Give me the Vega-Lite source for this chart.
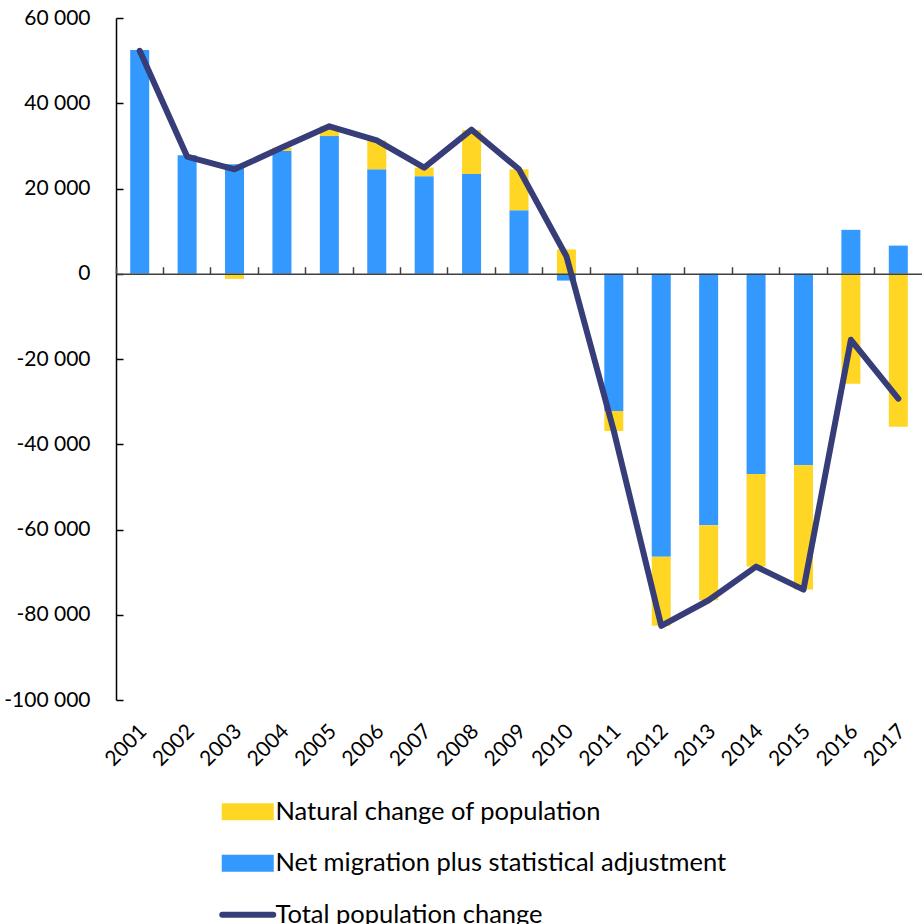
{
  "$schema": "https://vega.github.io/schema/vega-lite/v6.json",
  "width": 806,
  "height": 682,
  "autosize": {"type": "none"},
  "padding": {"left": 116, "top": 18, "right": 0, "bottom": 224},
  "background": "white",
  "config": {
    "view": {"stroke": null},
    "font": "Lato",
    "axis": {"labelFont": "Lato", "labelFontSize": 21, "labelColor": "#000000", "grid": false, "title": null}
  },
  "data": {
    "values": [
      {"year": "2001", "Natural change of population": -200, "Net migration plus statistical adjustment": 52500, "total": 52300},
      {"year": "2002", "Natural change of population": -300, "Net migration plus statistical adjustment": 27800, "total": 27500},
      {"year": "2003", "Natural change of population": -1200, "Net migration plus statistical adjustment": 25700, "total": 24500},
      {"year": "2004", "Natural change of population": 800, "Net migration plus statistical adjustment": 28800, "total": 29600},
      {"year": "2005", "Natural change of population": 2300, "Net migration plus statistical adjustment": 32300, "total": 34600},
      {"year": "2006", "Natural change of population": 6800, "Net migration plus statistical adjustment": 24500, "total": 31300},
      {"year": "2007", "Natural change of population": 2000, "Net migration plus statistical adjustment": 22900, "total": 24900},
      {"year": "2008", "Natural change of population": 10300, "Net migration plus statistical adjustment": 23400, "total": 33800},
      {"year": "2009", "Natural change of population": 9600, "Net migration plus statistical adjustment": 14900, "total": 24500},
      {"year": "2010", "Natural change of population": 5700, "Net migration plus statistical adjustment": -1600, "total": 4100},
      {"year": "2011", "Natural change of population": -4700, "Net migration plus statistical adjustment": -32200, "total": -36900},
      {"year": "2012", "Natural change of population": -16200, "Net migration plus statistical adjustment": -66400, "total": -82600},
      {"year": "2013", "Natural change of population": -17600, "Net migration plus statistical adjustment": -59000, "total": -76600},
      {"year": "2014", "Natural change of population": -21700, "Net migration plus statistical adjustment": -47000, "total": -68700},
      {"year": "2015", "Natural change of population": -29200, "Net migration plus statistical adjustment": -44900, "total": -74100},
      {"year": "2016", "Natural change of population": -25800, "Net migration plus statistical adjustment": 10300, "total": -15500},
      {"year": "2017", "Natural change of population": -35900, "Net migration plus statistical adjustment": 6600, "total": -29300}
    ]
  },
  "layer": [
    {
      "transform": [
        {"fold": ["Net migration plus statistical adjustment", "Natural change of population"], "as": ["series", "value"]}
      ],
      "mark": {"type": "bar", "size": 19},
      "encoding": {
        "x": {
          "field": "year", "type": "ordinal",
          "scale": {"paddingInner": 0, "paddingOuter": -0.069, "align": 0},
          "axis": {"orient": "bottom", "ticks": false, "domain": false, "labelAngle": -45, "labelAlign": "right", "labelBaseline": "middle", "labelPadding": 28, "labelOffset": 4, "labelOverlap": false}
        },
        "y": {
          "field": "value", "type": "quantitative", "stack": "zero",
          "scale": {"domain": [-100000, 60000], "nice": false, "zero": false},
          "axis": {
            "orient": "left",
            "values": [-100000, -80000, -60000, -40000, -20000, 0, 20000, 40000, 60000],
            "labelExpr": "replace(replace(format(datum.value, ','), regexp(',', 'g'), ' '), '\u2212', '-')",
            "domain": true, "domainColor": "#000000", "domainWidth": 1.5,
            "ticks": true, "tickColor": "#000000", "tickWidth": 1.5, "tickSize": -7,
            "labelPadding": 33
          }
        },
        "color": {
          "field": "series", "type": "nominal",
          "scale": {
            "domain": ["Natural change of population", "Net migration plus statistical adjustment", "Total population change"],
            "range": ["#FFD624", "#3399FF", "#363D78"]
          },
          "legend": {
            "orient": "none", "legendX": 119, "legendY": 781, "direction": "vertical", "title": null,
            "padding": 0, "symbolSize": 2704,
            "symbolType": "M-1,-0.327L1,-0.327L1,0.327L-1,0.327Z",
            "labelFont": "Lato", "labelFontSize": 25.5, "labelColor": "#000000", "labelOffset": 15,
            "rowPadding": 24.5, "labelLimit": 800,
            "encode": {
              "symbols": {
                "update": {
                  "shape": {"signal": "datum.value === 'Total population change' ? 'M-0.98,0L0.98,0' : 'M-1,-0.327L1,-0.327L1,0.327L-1,0.327Z'"},
                  "fill": {"signal": "datum.value === 'Natural change of population' ? '#FFD624' : datum.value === 'Net migration plus statistical adjustment' ? '#3399FF' : 'transparent'"},
                  "stroke": {"signal": "datum.value === 'Total population change' ? '#363D78' : 'transparent'"},
                  "strokeWidth": {"signal": "datum.value === 'Total population change' ? 6 : 0"},
                  "strokeCap": {"value": "round"},
                  "opacity": {"value": 1}
                }
              }
            }
          }
        },
        "order": {"field": "series", "sort": "descending"}
      }
    },
    {
      "mark": {"type": "line", "strokeWidth": 6, "strokeCap": "round", "strokeJoin": "round"},
      "encoding": {
        "x": {
          "field": "year", "type": "ordinal",
          "axis": {"orient": "top", "offset": -255.75, "labels": false, "ticks": true, "tickSize": 7, "bandPosition": 0, "tickColor": "#404040", "tickWidth": 1.5, "domain": true, "domainColor": "#404040", "domainWidth": 1.5, "zindex": 1}
        },
        "y": {"field": "total", "type": "quantitative", "axis": null},
        "color": {"datum": "Total population change"}
      }
    }
  ],
  "resolve": {"axis": {"x": "independent", "y": "independent"}}
}
